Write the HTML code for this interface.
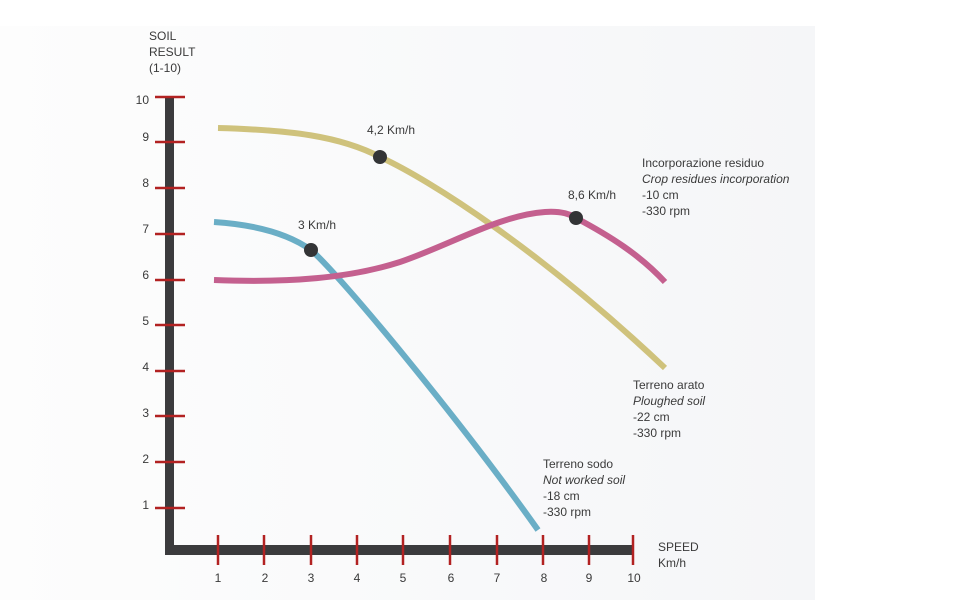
<!DOCTYPE html>
<html><head><meta charset="utf-8"><style>
html,body{margin:0;padding:0;background:#fff;}
svg{display:block;}
text{font-family:"Liberation Sans",sans-serif;font-size:12px;fill:#3a3a3a;}
</style></head><body>
<svg width="960" height="600" viewBox="0 0 960 600" xmlns="http://www.w3.org/2000/svg">
<defs><linearGradient id="bg" x1="0" y1="0" x2="1" y2="0">
<stop offset="0" stop-color="#fdfdfd"/><stop offset="1" stop-color="#f5f6f8"/></linearGradient></defs>
<rect x="0" y="0" width="960" height="600" fill="#fff"/>
<rect x="0" y="26" width="815" height="574" fill="url(#bg)"/>
<rect x="165" y="96" width="9" height="459" fill="#3b3b3d"/>
<rect x="165" y="545" width="469" height="10" fill="#3b3b3d"/>
<g stroke="#b22222" stroke-width="2.5">
<line x1="155" y1="97" x2="185" y2="97"/>
<line x1="155" y1="142" x2="185" y2="142"/>
<line x1="155" y1="188" x2="185" y2="188"/>
<line x1="155" y1="234" x2="185" y2="234"/>
<line x1="155" y1="280" x2="185" y2="280"/>
<line x1="155" y1="325" x2="185" y2="325"/>
<line x1="155" y1="371" x2="185" y2="371"/>
<line x1="155" y1="416" x2="185" y2="416"/>
<line x1="155" y1="462" x2="185" y2="462"/>
<line x1="155" y1="508" x2="185" y2="508"/>
<line x1="218" y1="535" x2="218" y2="565"/>
<line x1="264" y1="535" x2="264" y2="565"/>
<line x1="311" y1="535" x2="311" y2="565"/>
<line x1="357" y1="535" x2="357" y2="565"/>
<line x1="403" y1="535" x2="403" y2="565"/>
<line x1="450" y1="535" x2="450" y2="565"/>
<line x1="497" y1="535" x2="497" y2="565"/>
<line x1="543" y1="535" x2="543" y2="565"/>
<line x1="589" y1="535" x2="589" y2="565"/>
<line x1="633" y1="535" x2="633" y2="565"/>
</g>
<g text-anchor="end">
<text x="149" y="104">10</text><text x="149" y="141">9</text><text x="149" y="187">8</text>
<text x="149" y="233">7</text><text x="149" y="279">6</text><text x="149" y="325">5</text>
<text x="149" y="371">4</text><text x="149" y="417">3</text><text x="149" y="463">2</text>
<text x="149" y="509">1</text>
</g>
<g text-anchor="middle">
<text x="218" y="582">1</text><text x="265" y="582">2</text><text x="311" y="582">3</text>
<text x="357" y="582">4</text><text x="403" y="582">5</text><text x="451" y="582">6</text>
<text x="497" y="582">7</text><text x="544" y="582">8</text><text x="589" y="582">9</text>
<text x="634" y="582">10</text>
</g>
<text x="149" y="40">SOIL</text>
<text x="149" y="56">RESULT</text>
<text x="149" y="72">(1-10)</text>
<text x="658" y="551">SPEED</text>
<text x="658" y="567">Km/h</text>
<g fill="none" stroke-width="6">
<path d="M218,128 C290,130 340,136 380,157 C430,180 540,250 665,368" stroke="#cfc27c"/>
<path d="M214,222 C260,225 290,235 311,250 C340,275 460,420 538,530" stroke="#6aaec6"/>
<path d="M214,280 C290,283 350,278 400,262 C450,245 500,215 545,212 C560,211 570,214 576,218 C610,236 640,255 665,282" stroke="#c4608f"/>
</g>
<circle cx="380" cy="157" r="7" fill="#333436"/>
<circle cx="311" cy="250" r="7" fill="#333436"/>
<circle cx="576" cy="218" r="7" fill="#333436"/>
<text x="367" y="134">4,2 Km/h</text>
<text x="298" y="229">3 Km/h</text>
<text x="568" y="199">8,6 Km/h</text>
<text x="642" y="167">Incorporazione residuo</text>
<text x="642" y="183" font-style="italic">Crop residues incorporation</text>
<text x="642" y="199">-10 cm</text>
<text x="642" y="215">-330 rpm</text>
<text x="633" y="389">Terreno arato</text>
<text x="633" y="405" font-style="italic">Ploughed soil</text>
<text x="633" y="421">-22 cm</text>
<text x="633" y="437">-330 rpm</text>
<text x="543" y="468">Terreno sodo</text>
<text x="543" y="484" font-style="italic">Not worked soil</text>
<text x="543" y="500">-18 cm</text>
<text x="543" y="516">-330 rpm</text>
</svg>
</body></html>
